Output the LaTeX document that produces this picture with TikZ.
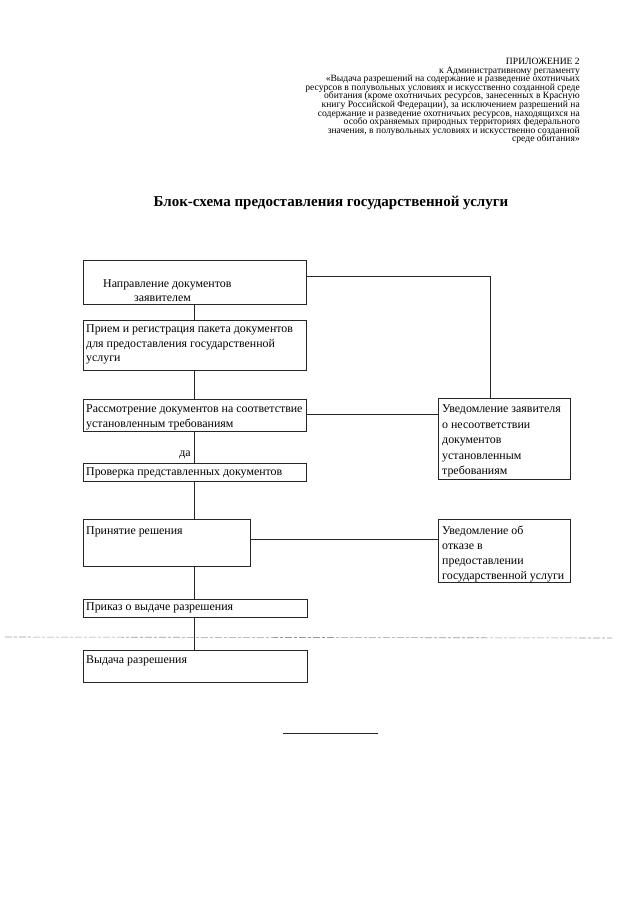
\documentclass[tikz,border=0pt]{standalone}
\usepackage{fontspec}
\setmainfont{Liberation Serif}
\newcommand\myhdrfont{\fontsize{9.6}{8.6}\selectfont\lineskiplimit=-6pt\relax\lineskip=0pt\relax}
\begin{document}
\begin{tikzpicture}[x=1pt,y=-1pt,
  box/.style={draw=black!85, line width=0.6pt, anchor=north west, inner sep=0pt},
  txt/.style={font=\fontsize{11.9}{15}\selectfont, anchor=base west, inner sep=0pt, align=left},
  link/.style={draw=black!85, line width=0.6pt},
  scanline/.style={draw=black!40, line width=0.6pt, dash pattern=on 7pt off 2pt on 3pt off 2pt}]
\useasboundingbox (0,0) rectangle (640,905);
\fill[white] (0,0) rectangle (640,905);
% header
\node[anchor=north east, inner sep=0pt, align=right, font=\myhdrfont] (hdr) at (580,58)
 {ПРИЛОЖЕНИЕ 2\\
 к Административному регламенту\\
 «Выдача разрешений на содержание и разведение охотничьих\\
 ресурсов в полувольных условиях и искусственно созданной среде\\
 обитания (кроме охотничьих ресурсов, занесенных в Красную\\
 книгу Российской Федерации), за исключением разрешений на\\
 содержание и разведение охотничьих ресурсов, находящихся на\\
 особо охраняемых природных территориях федерального\\
 значения, в полувольных условиях и искусственно созданной\\
 среде обитания»};
\node[inner sep=0pt, font=\fontsize{15}{15}\selectfont\bfseries] (title) at (331,203) {Блок-схема предоставления государственной услуги};
% boxes
\coordinate (col) at (194,0);
\node[box, minimum width=223pt, minimum height=44pt] (b1) at (83,260) {};
\node[box, minimum width=223pt, minimum height=50pt] (b2) at (83,320) {};
\node[box, minimum width=223pt, minimum height=32pt] (b3) at (83,399) {};
\node[box, minimum width=223pt, minimum height=18pt] (b4) at (83,463) {};
\node[box, minimum width=167pt, minimum height=47pt] (b5) at (83,519) {};
\node[box, minimum width=224pt, minimum height=18pt] (b7) at (83,599) {};
\node[box, minimum width=224pt, minimum height=32pt] (b8) at (83,650) {};
\node[box, minimum width=132pt, minimum height=81pt] (bR) at (438,398) {};
\node[box, minimum width=132pt, minimum height=63pt] (b6) at (438,519) {};
% texts (anchor is the baseline of the last line)
\node[txt] (t1a) at (103,287.5) {Направление документов};
\node[txt] (t1b) at (134,301.5) {заявителем};
\node[txt, font=\fontsize{11.9}{14.5}\selectfont] (t2) at (86,361.5) {Прием и регистрация пакета документов\\для предоставления государственной\\услуги};
\node[txt] (t3) at (86,427.5) {Рассмотрение документов на соответствие\\установленным требованиям};
\node[txt] (t4) at (86,475.5) {Проверка представленных документов};
\node[txt] (t5) at (86,534.5) {Принятие решения};
\node[txt] (t6) at (442,579.5) {Уведомление об\\отказе в\\предоставлении\\государственной услуги};
\node[txt, font=\fontsize{11.9}{15.5}\selectfont] (tR) at (442,474.5) {Уведомление заявителя\\о несоответствии\\документов\\установленным\\требованиям};
\node[txt] (t7) at (86,610.5) {Приказ о выдаче разрешения};
\node[txt] (t8) at (86,663) {Выдача разрешения};
\node[inner sep=0pt, font=\fontsize{11.9}{12}\selectfont] (yes) at (185,455) {да};
% connectors
\draw[link] (b1.south -| col) -- (b2.north -| col);
\draw[link] (b2.south -| col) -- (b3.north -| col);
\draw[link] (b3.south -| col) -- (b4.north -| col);
\draw[link] (b4.south -| col) -- (b5.north -| col);
\draw[link] (b5.south -| col) -- (b7.north -| col);
\draw[link] (b7.south -| col) -- (b8.north -| col);
\draw[link] ([yshift=6pt]b1.east) -| ([xshift=-14pt]bR.north);
\draw[link] ([yshift=1pt]b3.east) -- ([yshift=1pt]b3.east -| bR.west);
\draw[link] ([yshift=4pt]b5.east) -- ([yshift=4pt]b5.east -| b6.west);
% scan artefacts
\coordinate (sl) at (5,637);
\coordinate (sr) at (612,638);
\draw[scanline] (sl) -- (sr);
\coordinate (ul) at (283,733);
\coordinate (ur) at (378,733);
\draw[link] (ul) -- (ur);
\end{tikzpicture}
\end{document}
